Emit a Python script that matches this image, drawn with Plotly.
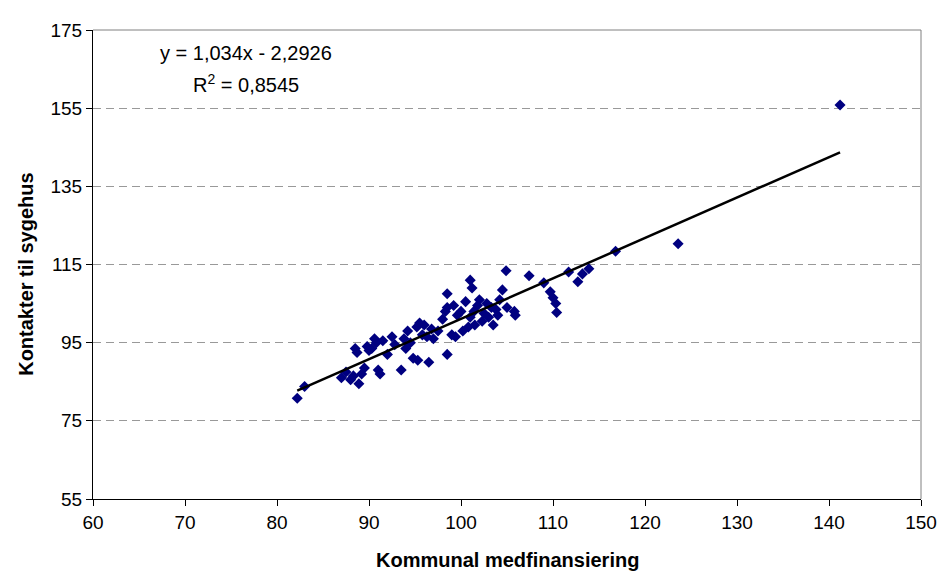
import numpy as np
import plotly.graph_objects as go

x_vals = [82.2, 83.0, 87.0, 87.5, 88.0, 88.3, 88.5, 88.7, 88.9, 89.2, 89.5, 89.8, 90.0, 90.3,
          90.6, 90.8, 91.0, 91.2, 91.5, 92.0, 92.5, 92.8, 93.5, 93.8, 94.0, 94.2, 94.5, 94.8,
          95.2, 95.3, 95.5, 95.8, 96.0, 96.3, 96.5, 96.8, 97.0, 97.5, 98.0, 98.3, 98.5, 98.5,
          98.5, 99.0, 99.2, 99.4, 99.6, 100.0, 100.2, 100.5, 100.8, 101.0, 101.0, 101.2, 101.4,
          101.5, 101.8, 102.0, 102.3, 102.5, 102.8, 103.0, 103.3, 103.5, 103.8, 104.0, 104.2,
          104.5, 104.9, 105.0, 105.8, 105.9, 107.4, 109.0, 109.7, 110.0, 110.3, 110.4, 111.7,
          112.7, 113.2, 113.9, 116.8, 123.6, 141.2]
y_vals = [80.8, 83.8, 86.0, 87.5, 85.5, 86.5, 93.5, 92.5, 84.5, 87.0, 88.5, 94.0, 93.0, 93.5,
          96.0, 95.0, 88.0, 87.0, 95.5, 92.0, 96.5, 94.5, 88.0, 96.0, 93.5, 98.0, 95.0, 91.0,
          99.0, 90.5, 100.0, 97.0, 99.5, 96.5, 90.0, 98.5, 96.0, 98.0, 101.0, 103.0, 104.0,
          107.5, 92.0, 97.0, 104.5, 96.5, 102.0, 103.0, 98.0, 105.5, 99.0, 111.0, 101.5, 109.0,
          103.0, 99.5, 104.5, 106.0, 100.5, 102.5, 105.0, 101.5, 104.0, 99.5, 103.5, 102.0,
          106.0, 108.5, 113.4, 104.0, 103.0, 102.0, 112.1, 110.3, 108.0, 106.5, 105.0, 102.7,
          113.1, 110.6, 112.6, 113.9, 118.4, 120.3, 155.8]

slope = 1.034
intercept = -2.2926
eq_text = "y = 1,034x - 2,2926"
r2_text = "R<sup>2</sup> = 0,8545"
x_title = "Kommunal medfinansiering"
y_title = "Kontakter til sygehus"
x_ticks = [60, 70, 80, 90, 100, 110, 120, 130, 140, 150]
y_ticks = [55, 75, 95, 115, 135, 155, 175]

xs = np.array([min(x_vals), max(x_vals)])
ys = slope * xs + intercept

fig = go.Figure()
fig.add_trace(go.Scatter(x=x_vals, y=y_vals, mode="markers",
                         marker=dict(symbol="diamond", size=8.5, color="#000080",
                                     line=dict(width=0)),
                         showlegend=False, hoverinfo="x+y"))
fig.add_trace(go.Scatter(x=xs, y=ys, mode="lines",
                         line=dict(color="black", width=2.5), showlegend=False))

font = "Liberation Sans, Arial, sans-serif"
# page body has an 8px margin, so the figure starts at (8, 8)
fig.update_layout(
    width=941, height=564,
    margin=dict(l=85, r=18, t=15, b=73),
    paper_bgcolor="white", plot_bgcolor="white",
    font=dict(family=font, size=19, color="black"),
    xaxis=dict(range=[60, 150], tickvals=x_ticks, showgrid=False, zeroline=False,
               showline=True, linecolor="black", linewidth=1, ticks="outside",
               ticklen=6, tickcolor="black", tickfont=dict(size=19)),
    yaxis=dict(range=[55, 175], tickvals=y_ticks, showgrid=True, gridcolor="#999999",
               griddash="8px,5px", gridwidth=1, zeroline=False,
               showline=True, linecolor="black", linewidth=1, ticks="outside",
               ticklen=6, tickcolor="black", tickfont=dict(size=19)),
    shapes=[dict(type="line", xref="paper", yref="paper", x0=0, x1=1, y0=1, y1=1,
                 line=dict(color="#808080", width=1)),
            dict(type="line", xref="paper", yref="paper", x0=1, x1=1, y0=0, y1=1,
                 line=dict(color="#808080", width=1))],
    annotations=[
        dict(text=eq_text, xref="paper", yref="paper", x=0.185, y=0.950,
             showarrow=False, font=dict(size=20), xanchor="center", yanchor="middle"),
        dict(text=r2_text, xref="paper", yref="paper", x=0.185, y=0.885,
             showarrow=False, font=dict(size=20), xanchor="center", yanchor="middle"),
        dict(text="<b>" + x_title + "</b>", xref="paper", yref="paper", x=0.5, y=-0.13,
             showarrow=False, font=dict(size=20), xanchor="center", yanchor="middle"),
        dict(text="<b>" + y_title + "</b>", xref="paper", yref="paper", x=-0.081, y=0.48,
             showarrow=False, font=dict(size=20), xanchor="center", yanchor="middle",
             textangle=-90),
    ],
)

fig.write_html("out.html")
